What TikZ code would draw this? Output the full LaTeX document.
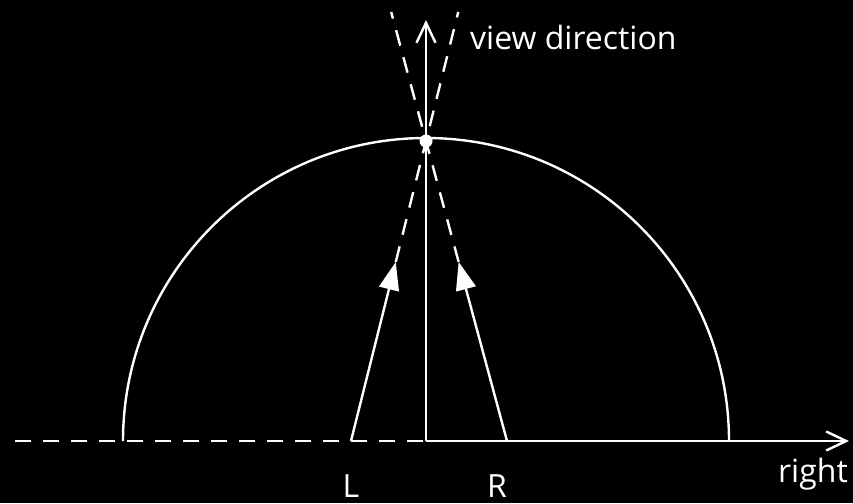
\documentclass[tikz,border=0pt]{standalone}
\usepackage{fontspec}
\setmainfont{Open Sans}
\usetikzlibrary{arrows.meta,calc}
\begin{document}
\begin{tikzpicture}[x=1pt,y=-1pt,
  line/.style={white,line width=2.4pt},
  dashline/.style={line,dash pattern=on 16pt off 12pt},
  axisarrow/.style={line,-{Straight Barb[length=20pt,width=19pt,line width=2.4pt]}},
  vecarrow/.style={line,-{Triangle[length=28pt,width=20pt]}},
  lbl/.style={text=white,font=\fontsize{32}{34}\selectfont,inner sep=0pt}]
\fill[black] (0,0) rectangle (853,503);
\useasboundingbox (0,0) rectangle (853,503);
\coordinate (O) at (426,441);
\coordinate (A) at (426,141);
\coordinate (Lp) at (351,441);
\coordinate (Rp) at (507,441);
\coordinate (W) at (15,441);
\coordinate (E) at (849,441);
\coordinate (N) at (426,20);
\coordinate (Lt) at ($(Lp)!0.597!(A)$);
\coordinate (Rt) at ($(Rp)!0.597!(A)$);
\coordinate (Le) at ($(Lp)!1.43!(A)$);
\coordinate (Re) at ($(Rp)!1.43!(A)$);
% semicircle
\draw[line] (729,441) arc[start angle=0,end angle=180,x radius=303,y radius=-303];
% axes
\draw[dashline] (W) -- (O);
\draw[axisarrow] (O) -- (E);
\draw[axisarrow] (O) -- (N);
% vectors
\draw[vecarrow] (Lp) -- (Lt);
\draw[vecarrow] (Rp) -- (Rt);
\draw[dashline] (Lt) -- (Le);
\draw[dashline] (Rt) -- (Re);
\fill[white] (A) circle (6.5pt);
% labels
\node[lbl,anchor=west] (vd) at (470,38) {view direction};
\node[lbl,anchor=east] (rt) at (848,474) {right};
\node[lbl,anchor=base] (lL) at (351,497) {L};
\node[lbl,anchor=base] (lR) at (497,497) {R};
\end{tikzpicture}
\end{document}
